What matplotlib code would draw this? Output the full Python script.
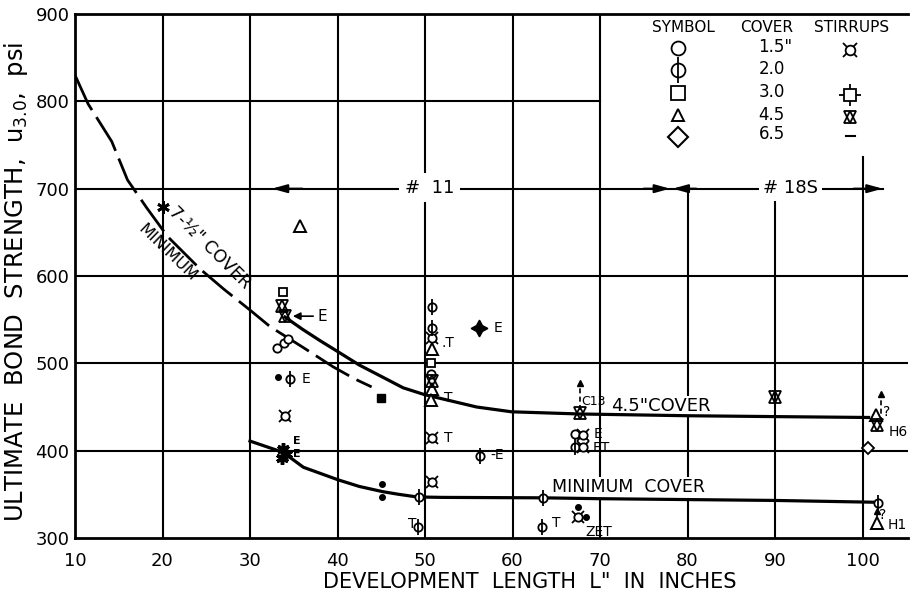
import matplotlib.pyplot as plt

# curves (x = development length, y = bond strength)
min_7half_x = [10, 11.5, 14.2, 16, 18.2, 20.6, 24.3, 27, 30, 32.3, 36.1, 39.5, 42, 43.9]
min_7half_y = [830, 797, 754, 710, 678, 645, 608, 585, 561, 542, 518, 496, 482, 473]
cover45_x = [34.0, 36, 38, 40.1, 42.5, 45.2, 47.5, 50, 51.7, 55.9, 59.9, 67.7, 80, 90, 100.7]
cover45_y = [553, 539, 526, 513, 498, 484, 472, 464, 460, 450, 444.5, 442, 440, 439, 438]
mincov_x = [30, 33.8, 36.1, 40.1, 42.5, 45.2, 47, 49.1, 52, 63.5, 70, 80, 90, 101.2]
mincov_y = [411, 398, 381, 366.5, 359, 353, 350, 347, 346.5, 346, 345, 344, 343, 341]

# test points grouped by symbol
circle_x = [33.1, 33.9, 34.3, 50.7, 67.1]
circle_y = [518, 523, 528, 488, 419]
phi_x = [34.6, 50.8, 50.8, 56.3, 49.3, 49.2, 63.5, 63.4, 67.1, 101.8]
phi_y = [482, 564, 540, 394, 347, 313, 346, 313, 404, 340]
square_x = [33.8, 50.7]
square_y = [582, 500]
tri_x = [35.7, 50.8, 50.8, 50.7, 101.5, 101.7]
tri_y = [657, 516, 471, 458, 441, 317]
diamond_x = [100.6]
diamond_y = [403]
hexa_x = [33.7, 34.0, 50.8, 67.7, 90.0, 101.6]
hexa_y = [566, 554, 480, 443, 461, 429]
stirrup_x = [34.0, 50.8, 50.8, 50.8, 68.1, 68.1, 67.5]
stirrup_y = [440, 529, 415, 364, 418, 404, 324]
dot_x = [33.2, 45.1, 45.1, 67.5, 68.4]
dot_y = [484, 362, 347, 336, 324]
fsquare_x = [45.0]
fsquare_y = [460]
fstar_x = [56.2]
fstar_y = [540]
heavy_x = [33.8, 34.1, 33.7]
heavy_y = [402, 396, 392]
ast_x = [20.1]
ast_y = [679]

# point labels
labels = [("E", 35.9, 482), (".T", 51.9, 523),
          ("T", 52.2, 460), ("T", 52.2, 414), ("E", 57.8, 540), ("-E", 57.5, 395),
          ("T", 48.1, 316), ("T", 64.5, 317), ("E", 69.3, 419), ("ET", 69.2, 403),
          ("ZET", 68.3, 307), ("H6", 103.0, 421), ("?", 102.4, 444), ("H1", 102.9, 315),
          ("?", 101.9, 326)]
small_labels = [("E", 34.9, 411), ("E", 34.9, 396)]

# legend table
leg_cover = ['1.5"', '2.0', '3.0', '4.5', '6.5']

K = 'k'


def circle(xs, ys, ms=6, fill='white'):
    ax.plot(xs, ys, ls='none', marker='o', mfc=fill, mec=K, ms=ms, mew=1.3, zorder=5)


def phi(xs, ys, ms=6):
    circle(xs, ys, ms)
    ax.plot(xs, ys, ls='none', marker='|', color=K, ms=ms * 1.9, mew=1.3, zorder=6)


def square(xs, ys, ms=6):
    ax.plot(xs, ys, ls='none', marker='s', mfc='white', mec=K, ms=ms, mew=1.3, zorder=5)


def tri(xs, ys, ms=8):
    ax.plot(xs, ys, ls='none', marker='^', mfc='white', mec=K, ms=ms, mew=1.4, zorder=5)


def hexa(xs, ys, ms=8):
    ax.plot(xs, ys, ls='none', marker='^', mfc='none', mec=K, ms=ms, mew=1.3, zorder=5)
    ax.plot(xs, ys, ls='none', marker='v', mfc='none', mec=K, ms=ms, mew=1.3, zorder=5)


def stirrup(xs, ys, ms=6):
    ax.plot(xs, ys, ls='none', marker='x', color=K, ms=ms * 1.5, mew=1.3, zorder=5)
    circle(xs, ys, ms)


fig = plt.figure(figsize=(9.1, 6.01), dpi=100)
ax = fig.add_axes([75 / 910, 1 - 538 / 601, 833 / 910, 524 / 601])
xmax = 10 + 833 / 8.75
ax.set_xlim(10, xmax)
ax.set_ylim(300, 900)

for s in ['left', 'bottom', 'top']:
    ax.spines[s].set_linewidth(2)
ax.spines['right'].set_visible(False)
ax.set_xticks(range(10, 101, 10))
ax.set_yticks(range(300, 901, 100))
ax.tick_params(length=0, labelsize=13)
ax.tick_params(axis='x', pad=10)
ax.tick_params(axis='y', pad=4)

# hand drawn grid, some lines stop short
for gx, y0, y1 in [(20, 300, 900), (30, 300, 900), (40, 300, 900), (50, 300, 900),
                   (60, 300, 900), (70, 300, 900), (80, 300, 700), (90, 300, 700),
                   (100, 300, 736)]:
    ax.plot([gx, gx], [y0, y1], color=K, lw=1.5, zorder=1)
for gy, x0, x1 in [(400, 10, xmax), (500, 10, xmax), (600, 10, xmax),
                   (700, 10, 102.3), (800, 10, 70)]:
    ax.plot([x0, x1], [gy, gy], color=K, lw=1.5, zorder=1)

# curves
ax.plot(min_7half_x, min_7half_y, color=K, lw=2, dashes=(14, 3), zorder=3)
ax.plot(cover45_x, cover45_y, color=K, lw=2.3, zorder=3)
ax.plot(mincov_x, mincov_y, color=K, lw=2.3, zorder=3)

# points
circle(circle_x, circle_y)
phi(phi_x, phi_y)
square(square_x, square_y)
tri(tri_x, tri_y)
ax.plot(diamond_x, diamond_y, ls='none', marker='D', mfc='white', mec=K, ms=6, mew=1.3, zorder=5)
hexa(hexa_x, hexa_y)
stirrup(stirrup_x, stirrup_y)
ax.plot(dot_x, dot_y, ls='none', marker='o', color=K, ms=4, zorder=5)
ax.plot(fsquare_x, fsquare_y, ls='none', marker='s', color=K, ms=6, zorder=5)
ax.plot(fstar_x, fstar_y, ls='none', marker=(4, 1, 0), color=K, ms=12, zorder=5)
ax.plot(heavy_x, heavy_y, ls='none', marker=(6, 2, 0), color=K, ms=9, mew=2.5, zorder=5)
ax.plot(ast_x, ast_y, ls='none', marker=(6, 2, 0), color=K, ms=9, mew=2, zorder=5)

for txt, lx, ly in labels:
    ax.text(lx, ly, txt, fontsize=10, ha='left', va='center', zorder=6)
for txt, lx, ly in small_labels:
    ax.text(lx, ly, txt, fontsize=8, fontweight='bold', ha='left', va='center', zorder=6)
ax.annotate('E', xy=(34.9, 554), xytext=(37.7, 554), fontsize=11, va='center',
            arrowprops=dict(arrowstyle='-|>', color=K, lw=1.2, shrinkA=1, shrinkB=0))

# dashed "?" arrows
for ax_x, y0, y1 in [(67.7, 447, 478), (102.1, 433, 465), (101.6, 322, 331)]:
    ax.plot([ax_x, ax_x], [y0, y1], color=K, lw=1.2, ls=(0, (3, 2)), zorder=4)
    ax.plot(ax_x, y1, marker='^', color=K, ms=4, zorder=4)

# curve captions
wb = dict(facecolor='white', edgecolor='none', pad=1)
ax.text(76.9, 451, '4.5"COVER', fontsize=13, ha='center', va='center', bbox=wb, zorder=2)
ax.text(69.3, 456, 'C13', fontsize=9, ha='center', va='center', zorder=6)
ax.text(73.2, 358, 'MINIMUM  COVER', fontsize=12.5, ha='center', va='center', bbox=wb, zorder=2)
ax.text(25.4, 633, '7-½" COVER', fontsize=12.5, rotation=-45, ha='center', va='center', zorder=6)
ax.text(20.6, 627, 'MINIMUM', fontsize=11.5, rotation=-44, ha='center', va='center', zorder=6)

# bar size ranges on the 700 line
ax.text(50.5, 701, '#  11', fontsize=13, ha='center', va='center',
        bbox=dict(facecolor='white', edgecolor='none', pad=4), zorder=2)
ax.text(91.8, 701, '# 18S', fontsize=13, ha='center', va='center',
        bbox=dict(facecolor='white', edgecolor='none', pad=3), zorder=2)
arr = dict(arrowstyle='-|>,head_length=0.9,head_width=0.25', color=K, lw=1.5, shrinkA=0, shrinkB=0)
ax.annotate('', xy=(32.5, 700), xytext=(36, 700), arrowprops=arr)
ax.annotate('', xy=(78.0, 700), xytext=(75, 700), arrowprops=arr)
ax.annotate('', xy=(78.3, 700), xytext=(81, 700), arrowprops=arr)
ax.annotate('', xy=(102.3, 700), xytext=(99, 700), arrowprops=arr)

# legend table
ax.text(79.5, 884, 'SYMBOL', fontsize=11, ha='center', va='center')
ax.text(89.0, 884, 'COVER', fontsize=11, ha='center', va='center')
ax.text(98.8, 884, 'STIRRUPS', fontsize=11, ha='center', va='center')
rows = [861, 836, 810, 784, 759]
circle([78.9], [rows[0]], ms=10)
phi([78.9], [rows[1]], ms=10)
square([78.9], [rows[2]], ms=10)
tri([78.9], [rows[3]], ms=9)
ax.plot([78.9], [rows[4]], ls='none', marker='D', mfc='white', mec=K, ms=10, mew=1.5)
for txt, ry in zip(leg_cover, [862, 837, 811, 784.5, 763]):
    ax.text(88.1, ry, txt, fontsize=12, ha='left', va='center')
stirrup([98.6], [859], ms=7)
ax.plot([98.6], [807], ls='none', marker='+', color=K, ms=16, mew=1.3, zorder=5)
square([98.6], [807], ms=9)
hexa([98.6], [782], ms=9)
ax.plot([98.1, 99.1], [760, 760], color=K, lw=1.5)

fig.text(16 / 910, 1 - 282 / 601, 'ULTIMATE  BOND  STRENGTH,  u$_{3.0}$,  psi', fontsize=17.5,
         rotation=90, ha='center', va='center')
fig.text(530 / 910, 1 - 582 / 601, 'DEVELOPMENT  LENGTH  L"  IN  INCHES', fontsize=15,
         ha='center', va='center')

fig.savefig('out.png', dpi=100, facecolor='white')
